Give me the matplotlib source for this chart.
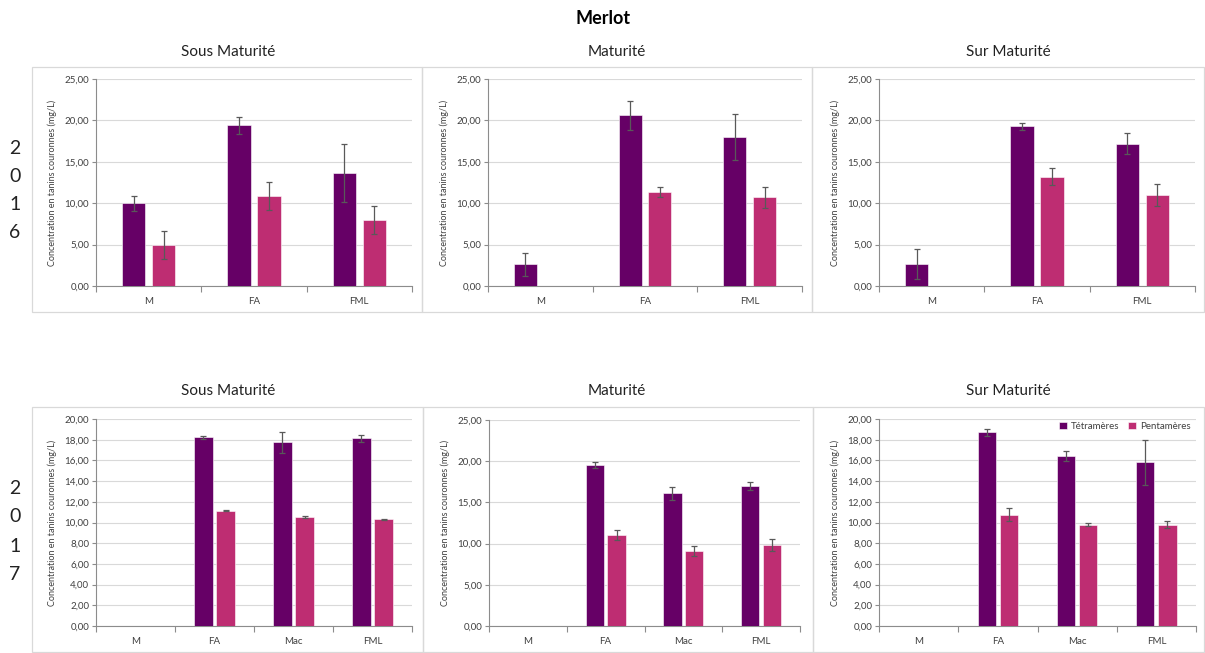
import numpy as np
import matplotlib
matplotlib.use("Agg")
import matplotlib.pyplot as plt
from matplotlib.patches import Rectangle
from matplotlib.ticker import FuncFormatter, MultipleLocator

plt.rcParams['font.family'] = ['Lato', 'DejaVu Sans']

# --- data ---
cats_2016 = ["M", "FA", "FML"]
cats_2017 = ["M", "FA", "Mac", "FML"]
stages = ["Sous Maturité", "Maturité", "Sur Maturité"]
series = ["Tétramères", "Pentamères"]

tetra_2016 = [[10.0, 19.4, 13.6], [2.6, 20.6, 18.0], [2.7, 19.3, 17.2]]
tetra_2016_err = [[0.9, 1.0, 3.5], [1.4, 1.75, 2.8], [1.8, 0.4, 1.3]]
penta_2016 = [[5.0, 10.9, 8.0], [0.0, 11.4, 10.7], [0.0, 13.2, 11.0]]
penta_2016_err = [[1.7, 1.7, 1.7], [0.0, 0.6, 1.25], [0.0, 1.0, 1.3]]

tetra_2017 = [[0.0, 18.25, 17.75, 18.15], [0.0, 19.5, 16.1, 17.0], [0.0, 18.7, 16.4, 15.8]]
tetra_2017_err = [[0.0, 0.15, 1.0, 0.35], [0.0, 0.35, 0.8, 0.5], [0.0, 0.35, 0.5, 2.15]]
penta_2017 = [[0.0, 11.15, 10.55, 10.3], [0.0, 11.0, 9.1, 9.8], [0.0, 10.75, 9.8, 9.8]]
penta_2017_err = [[0.0, 0.05, 0.1, 0.02], [0.0, 0.6, 0.55, 0.7], [0.0, 0.65, 0.15, 0.3]]

ymax_2017 = [20, 25, 20]
ystep_2017 = [2, 5, 2]

C_T = "#660066"
C_P = "#BE2D72"
GRID = "#D9D9D9"
AXC = "#8C8C8C"
TXT = "#404040"

W, H = 1205, 653
fig = plt.figure(figsize=(W / 100, H / 100), dpi=100)


def px_rect(x0, y0, x1, y1):
    return [x0 / W, 1 - y1 / H, (x1 - x0) / W, (y1 - y0) / H]


def fmt(v, pos):
    return f"{v:.2f}".replace(".", ",")


def draw(ax, cats, tv, te, pv, pe, ymax, ystep, offset, bw):
    x = np.arange(len(cats))
    ekw = dict(ecolor="#595959", elinewidth=0.9, capsize=2.2, capthick=0.9)
    # skip error bars for empty bars
    te_ = [e if v > 0 else np.nan for v, e in zip(tv, te)]
    pe_ = [e if v > 0 else np.nan for v, e in zip(pv, pe)]
    ax.bar(x - offset, tv, bw, color=C_T, edgecolor="white", linewidth=0.4,
           yerr=te_, error_kw=ekw, zorder=3, label=series[0])
    ax.bar(x + offset, pv, bw, color=C_P, edgecolor="white", linewidth=0.4,
           yerr=pe_, error_kw=ekw, zorder=3, label=series[1])
    ax.set_xlim(-0.5, len(cats) - 0.5)
    ax.set_ylim(0, ymax)
    ax.yaxis.set_major_locator(MultipleLocator(ystep))
    ax.yaxis.set_major_formatter(FuncFormatter(fmt))
    ax.grid(axis="y", color=GRID, linewidth=0.8, zorder=0)
    ax.set_axisbelow(True)
    ax.set_xticks(np.arange(-0.5, len(cats), 1.0))
    ax.set_xticklabels([])
    ax.set_xticks(x, minor=True)
    ax.set_xticklabels(cats, minor=True)
    ax.tick_params(axis="x", which="major", length=4, color=AXC, width=0.8)
    ax.tick_params(axis="x", which="minor", length=0, pad=8, labelsize=7, labelcolor=TXT)
    ax.tick_params(axis="y", length=3, color=AXC, width=0.8, labelsize=7, labelcolor=TXT, pad=2)
    for s in ["top", "right"]:
        ax.spines[s].set_visible(False)
    for s in ["left", "bottom"]:
        ax.spines[s].set_color(AXC)
        ax.spines[s].set_linewidth(0.8)
    ax.set_ylabel("Concentration en tanins couronnes (mg/L)", fontsize=6.5, color=TXT, labelpad=5)
    ax.set_facecolor("none")


top_frames = [(32, 67, 422, 312), (422, 67, 812, 312), (812, 67, 1204, 312)]
bot_frames = [(32, 407, 423, 652), (423, 407, 813, 652), (813, 407, 1204, 652)]
top_axes = [(96, 79, 412, 286), (488, 79, 802, 286), (879, 79, 1195, 286)]
bot_axes = [(96, 419, 412, 626), (489, 420, 800, 626), (879, 419, 1196, 626)]
title_x = [228, 617, 1008]

for fr in top_frames + bot_frames:
    x0, y0, x1, y1 = fr
    fig.patches.append(Rectangle((x0 / W, 1 - y1 / H), (x1 - x0) / W, (y1 - y0) / H,
                                 transform=fig.transFigure, fill=False,
                                 edgecolor="#D9D9D9", linewidth=0.9))

for i in range(3):
    ax = fig.add_axes(px_rect(*top_axes[i]))
    draw(ax, cats_2016, tetra_2016[i], tetra_2016_err[i], penta_2016[i], penta_2016_err[i],
         25, 5, 0.142, 0.22)
    fig.text(title_x[i] / W, 1 - 52 / H, stages[i], ha="center", va="center", fontsize=11, color="#222222")

for i in range(3):
    ax = fig.add_axes(px_rect(*bot_axes[i]))
    draw(ax, cats_2017, tetra_2017[i], tetra_2017_err[i], penta_2017[i], penta_2017_err[i],
         ymax_2017[i], ystep_2017[i], 0.14, 0.232)
    fig.text(title_x[i] / W, 1 - 391 / H, stages[i], ha="center", va="center", fontsize=11, color="#222222")
    if i == 2:
        ax.legend(loc="upper right", bbox_to_anchor=(1.01, 1.03), ncol=2, frameon=False,
                  fontsize=7, handlelength=0.8, handleheight=0.8, handletextpad=0.4,
                  columnspacing=0.9, labelcolor=TXT)

fig.text(603 / W, 1 - 18 / H, "Merlot", ha="center", va="center", fontsize=13, fontweight="bold")

for ys, digits in [([148, 176, 204, 232], "2016"), ([488, 517, 546, 575], "2017")]:
    for y, d in zip(ys, digits):
        fig.text(15 / W, 1 - y / H, d, ha="center", va="center", fontsize=14, color="#222222")

fig.savefig("out.png", dpi=100, facecolor="white")
